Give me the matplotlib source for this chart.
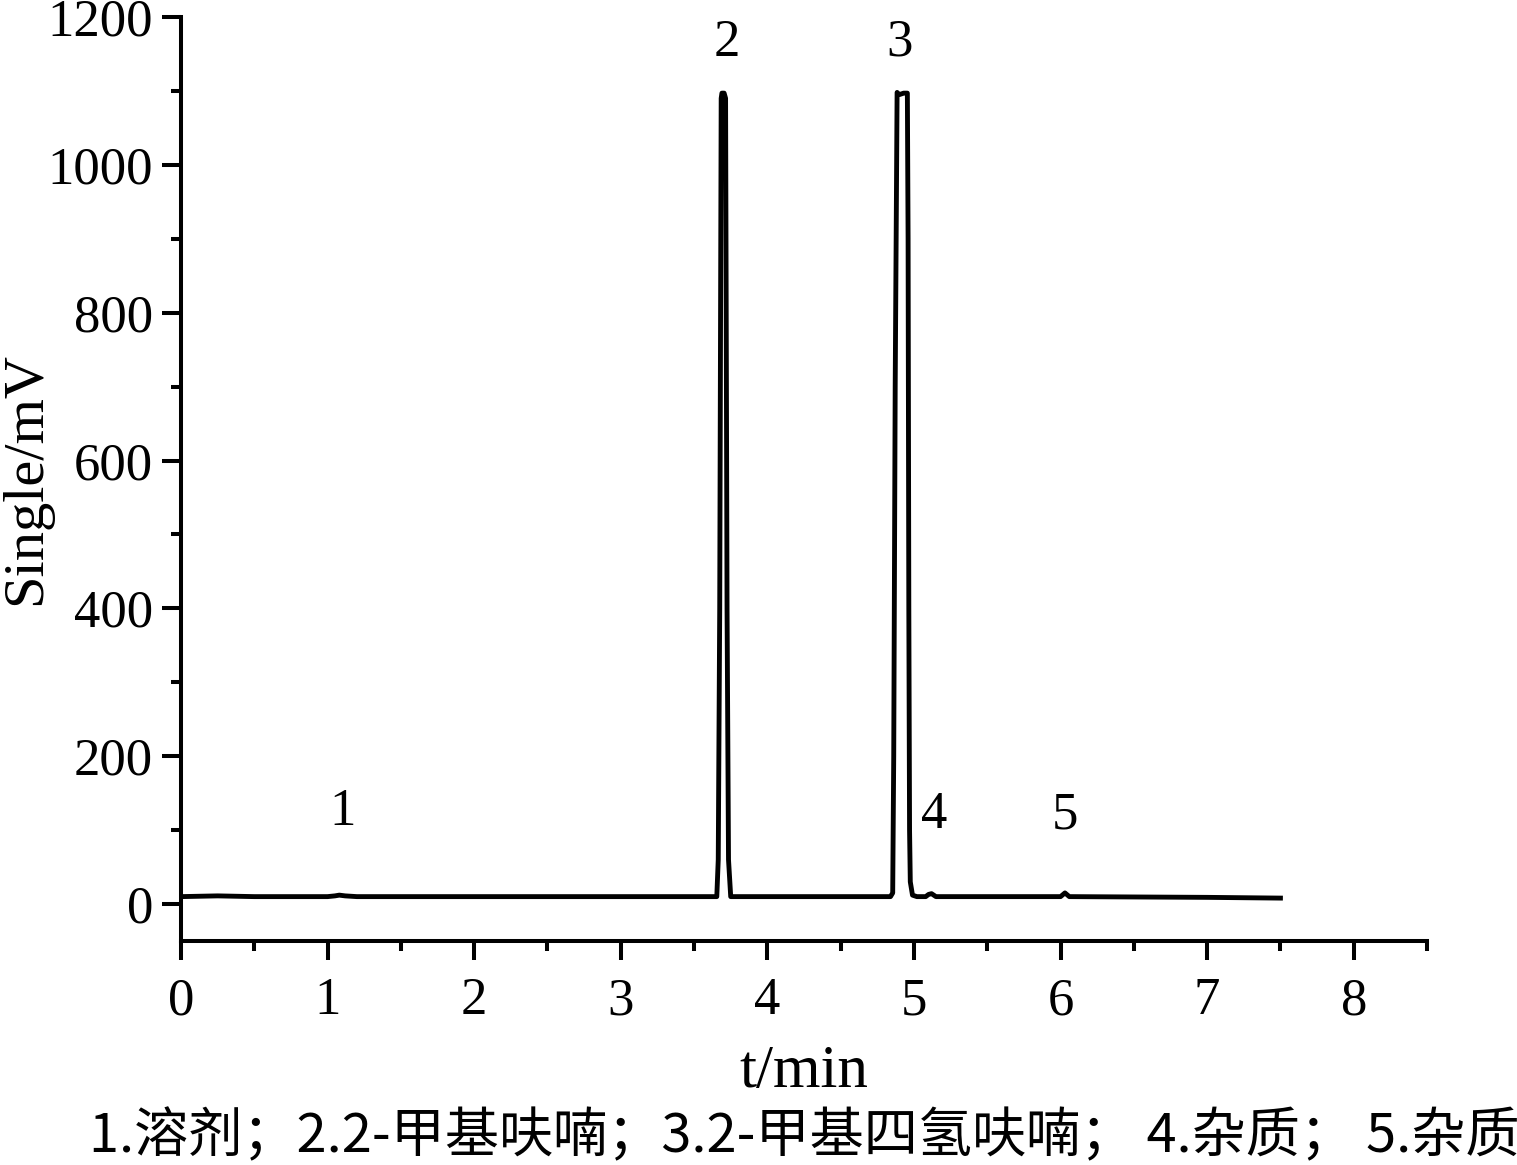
import numpy as np
import matplotlib.pyplot as plt
import matplotlib.ticker as ticker

plt.rcParams['font.family'] = ['Liberation Serif', 'DejaVu Serif']

# chromatogram trace (time in min, signal in mV)
t = [0.0, 0.25, 0.5, 1.0, 1.05, 1.08, 1.12, 1.2, 2.0, 3.0, 3.6,
     3.655, 3.665, 3.675, 3.685, 3.69, 3.705, 3.715, 3.725, 3.735, 3.75, 3.8,
     4.5, 4.84, 4.855, 4.862, 4.872, 4.885, 4.9, 4.93, 4.955, 4.96, 4.965,
     4.97, 4.975, 4.99, 5.02, 5.08, 5.1, 5.12, 5.15, 6.0, 6.03, 6.06, 7.0, 7.5]
signal = [10, 11, 10, 10, 11, 12, 11, 10, 10, 10, 10,
          10, 60, 400, 1090, 1097, 1097, 1090, 400, 60, 10, 10,
          10, 10, 15, 200, 700, 1098, 1095, 1097, 1097, 900, 400,
          100, 30, 12, 10, 10, 13, 14, 10, 10, 15, 10, 9, 8]

peak_ids = ['1', '2', '3', '4', '5']
peak_t = [1.1, 3.72, 4.9, 5.14, 6.03]
peak_y = [125, 1165, 1165, 120, 120]

caption = '1.溶剂；2.2-甲基呋喃；3.2-甲基四氢呋喃； 4.杂质； 5.杂质'

fig = plt.figure(figsize=(15.17, 11.65), dpi=100)
ax = fig.add_axes([0.1193, 0.1923, 0.8214, 0.7931])

ax.plot(t, signal, color='black', lw=3.5, solid_joinstyle='round')

for lab, x, y in zip(peak_ids, peak_t, peak_y):
    ax.text(x, y, lab, ha='center', va='center', fontsize=38)

ax.set_xlim(0, 8.5)
ax.set_ylim(-50, 1200)
ax.spines['top'].set_visible(False)
ax.spines['right'].set_visible(False)
for s in ['left', 'bottom']:
    ax.spines[s].set_linewidth(2.9)

ax.xaxis.set_major_locator(ticker.MultipleLocator(1))
ax.xaxis.set_minor_locator(ticker.MultipleLocator(0.5))
ax.yaxis.set_major_locator(ticker.MultipleLocator(200))
ax.yaxis.set_minor_locator(ticker.MultipleLocator(100))
ax.tick_params(which='major', direction='out', length=14, width=2.9,
               labelsize=38, pad=6)
ax.tick_params(which='minor', direction='out', length=7, width=2.9)
ax.tick_params(axis='x', which='major', pad=12)

ax.set_xlabel('t/min', fontsize=44, labelpad=14)
ax.set_ylabel('Single/mV', fontsize=42, va='center')
ax.yaxis.set_label_coords(-0.124, 0.5)

fig.text(0.53, 0.024, caption, ha='center', va='center', fontsize=39,
         family=['Noto Sans CJK SC', 'DejaVu Sans'])

fig.savefig('out.png', dpi=100)
